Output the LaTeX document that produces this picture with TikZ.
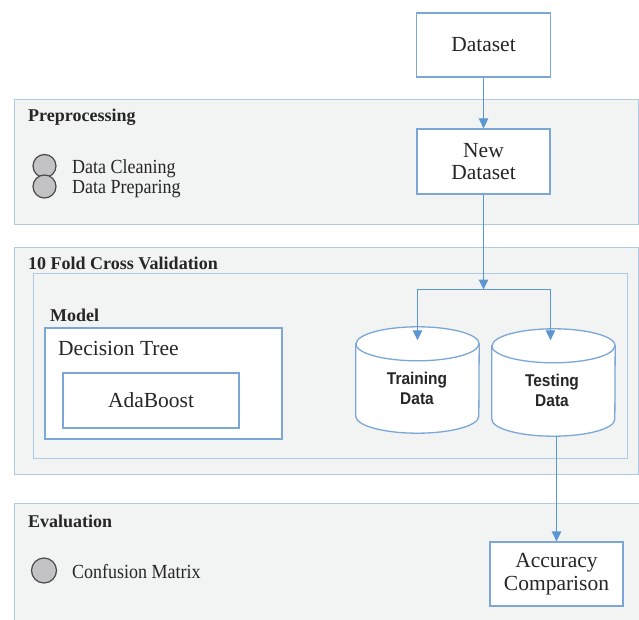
\documentclass[tikz,border=0pt]{standalone}
\usepackage{fontspec}
\setmainfont{Liberation Serif}
\newfontfamily\condserif[FakeStretch=0.9]{Liberation Serif}
\newfontfamily\cylfont[FakeStretch=0.91]{Liberation Sans}
\usetikzlibrary{arrows.meta,calc}

\definecolor{panelfill}{HTML}{F2F3F3}
\definecolor{panelborder}{HTML}{AECAE6}
\definecolor{boxborder}{HTML}{7BA7D7}
\definecolor{arrowblue}{HTML}{5B96D0}
\definecolor{dotfill}{HTML}{C3C3C5}
\definecolor{dotborder}{HTML}{4A4A4A}
\definecolor{ink}{HTML}{262626}

\tikzset{
  panel/.style={draw=panelborder, fill=panelfill, line width=0.9pt,
    anchor=north west, inner sep=0pt, outer sep=0pt},
  box/.style={draw=boxborder, fill=white, line width=1.3pt, align=center,
    inner sep=0pt, text=ink, font=\fontsize{21.5}{22.5}\selectfont},
  cylbox/.style={inner sep=0pt, align=center, text=ink,
    font=\cylfont\bfseries\fontsize{17}{20}\selectfont},
  cylline/.style={draw=boxborder, fill=white, line width=1.3pt},
  conn/.style={draw=arrowblue, line width=1.3pt},
  tip/.style={-{Triangle[width=9.5pt,length=10pt]}},
  dot/.style={circle, draw=dotborder, fill=dotfill, line width=1.2pt,
    inner sep=0pt},
  title/.style={anchor=base west, inner sep=0pt, text=ink,
    font=\fontsize{18}{18}\selectfont\bfseries},
  item/.style={anchor=base west, inner sep=0pt, text=ink,
    font=\condserif\fontsize{20}{20}\selectfont},
  biglabel/.style={anchor=base west, inner sep=0pt, text=ink,
    font=\fontsize{21.5}{22.5}\selectfont},
}

% cylinder outline around a named node: top and bottom ellipses of
% half-axes 61.5pt x 17pt
\newcommand\drawcylinder[1]{%
  \path[cylline]
    ($(#1.north west)+(0,17)$) -- ($(#1.south west)+(0,-17)$)
    arc[start angle=180, end angle=360, x radius=61.5pt, y radius=17pt]
    -- ($(#1.north east)+(0,17)$)
    arc[start angle=0, end angle=180, x radius=61.5pt, y radius=17pt]
    -- cycle;
  \draw[cylline, fill=none] ($(#1.north west)+(0,17)$)
    arc[start angle=180, end angle=360, x radius=61.5pt, y radius=17pt];
}

\begin{document}
\begin{tikzpicture}[x=1pt, y=-1pt]
\useasboundingbox (0,0) rectangle (639,620);

% stage panels
\node[panel, minimum width=624, minimum height=125] (pre) at (14,99) {};
\node[panel, minimum width=624, minimum height=227] (fold) at (14,247) {};
\node[panel, minimum width=594, minimum height=185] (inner) at (33,273) {};
\node[panel, minimum width=628, minimum height=130] (eval) at (14,503) {};

% panel titles
\node[title] (pretitle) at (28,122) {Preprocessing};
\node[title] (foldtitle) at (28,269.5) {10 Fold Cross Validation};
\node[title] (modeltitle) at (50,321.5) {Model};
\node[title] (evaltitle) at (28,527) {Evaluation};

% bullet items
\node[dot, minimum size=23] (d1) at (44.5,166) {};
\node[dot, minimum size=23] (d2) at (44.5,186.5) {};
\node[item] (clean) at (72,174) {Data Cleaning};
\node[item] (prep) at (72,194) {Data Preparing};
\node[dot, minimum size=25] (d3) at (44,570.5) {};
\node[item] (conf) at (72,578) {Confusion Matrix};

% model boxes
\node[box, minimum width=237, minimum height=111] (dt) at (163.5,383.5) {};
\node[biglabel] (dtlabel) at (58,355) {Decision Tree};
\node[box, minimum width=176, minimum height=55] (ada) at (151,400.5) {AdaBoost};

% data boxes
\node[box, minimum width=134, minimum height=64] (ds) at (483.5,45) {Dataset};
\node[box, minimum width=133, minimum height=65] (nds) at (483.5,161.5) {New\\Dataset};
\node[box, minimum width=133, minimum height=64] (acc) at (556.5,574) {\rule{0pt}{5pt}Accuracy\\Comparison};

% data stores
\node[cylbox, minimum width=123, minimum height=106] (train) at (417.5,380) {};
\node[cylbox, minimum width=123, minimum height=107] (test) at (553.5,382.5) {};
\drawcylinder{train}
\drawcylinder{test}
\node[cylbox] (traintext) at (417,388) {Training\\Data};
\node[cylbox] (testtext) at (552,390) {Testing\\Data};

% connectors
\coordinate (split) at (483.5,289.5);
\draw[conn, tip] (ds.south) -- (nds.north);
\draw[conn, tip] (nds.south) -- (split);
\draw[conn, tip] (split) -| ($(train.north)+(0,13.5)$);
\draw[conn, tip] (split) -| ($(test.north)+(-3,11.5)$);
\draw[conn, tip] (test.south -| acc.north) -- (acc.north);
\end{tikzpicture}
\end{document}
